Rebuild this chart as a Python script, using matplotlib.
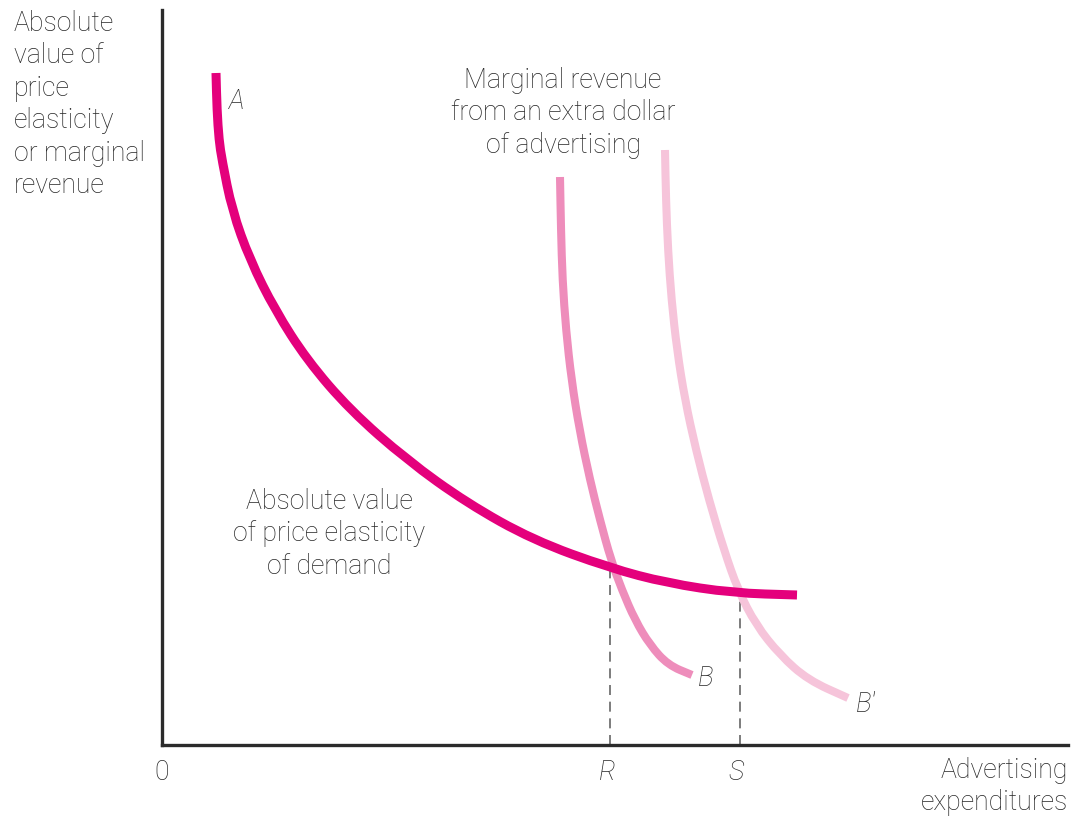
import matplotlib
matplotlib.use("Agg")
import matplotlib.pyplot as plt
from matplotlib.path import Path
from matplotlib.patches import PathPatch

# Figure geometry (pixels) of the plotting area
W, H = 1074, 816
x0, y0, x1, y1 = 162, 745, 1068, 10

# Curve points in chart units (origin at the corner of the axes)
elasticity_x = [54, 55, 57, 60, 70, 88, 113, 145, 188, 245, 305, 371, 448, 505, 571, 635]
elasticity_y = [672, 635, 605, 585, 535, 485, 435, 385, 335, 285, 242, 205, 177, 162, 152, 150]

mr_x = [398, 399, 400.5, 404, 409.5, 417.5, 428, 438, 449, 460, 473, 488, 506, 530]
mr_y = [568, 515, 465, 415, 365, 315, 265, 225, 185, 155, 125, 100, 80, 70]

mr2_x = [503, 504, 506, 509.5, 515, 523, 534, 547, 562, 576, 594, 618, 646, 686]
mr2_y = [595, 545, 495, 445, 395, 345, 295, 245, 195, 155, 120, 90, 65, 47]

r_pos, s_pos = 448, 578
r_top, s_top = 177, 153


def smooth_path(xs, ys):
    """Quadratic B-spline style path through the midpoints of the given points."""
    pts = list(zip(xs, ys))
    verts = [pts[0]]
    codes = [Path.MOVETO]
    mid = lambda a, b: ((a[0] + b[0]) / 2, (a[1] + b[1]) / 2)
    verts.append(mid(pts[0], pts[1]))
    codes.append(Path.LINETO)
    for i in range(1, len(pts) - 1):
        verts += [pts[i], mid(pts[i], pts[i + 1])]
        codes += [Path.CURVE3, Path.CURVE3]
    verts.append(pts[-1])
    codes.append(Path.LINETO)
    return Path(verts, codes)


fig = plt.figure(figsize=(10.74, 8.16), dpi=100)
ax = fig.add_axes([x0 / W, (H - y0) / H, (x1 - x0) / W, (y0 - y1) / H])
ax.set_xlim(0, x1 - x0)
ax.set_ylim(0, y0 - y1)
for side in ("top", "right"):
    ax.spines[side].set_visible(False)
for side in ("left", "bottom"):
    ax.spines[side].set_linewidth(2.4)
    ax.spines[side].set_color("#2b2b2b")
ax.set_xticks([])
ax.set_yticks([])

curves = [
    (mr2_x, mr2_y, "#f6c4da", 5.8),
    (mr_x, mr_y, "#ee8dbb", 5.8),
    (elasticity_x, elasticity_y, "#e4007c", 6.5),
]
for xs, ys, col, w in curves:
    ax.add_patch(PathPatch(smooth_path(xs, ys), fill=False, edgecolor=col, lw=w,
                           capstyle="butt", joinstyle="round", clip_on=False))

for xp, top in ((r_pos, r_top), (s_pos, s_top)):
    ax.plot([xp, xp], [0, top], color="#666666", lw=1.2, ls=(0, (6, 4)), zorder=0.5)

font = ["Roboto", "Liberation Sans"]
tc = "#262626"
fs = 19.2
ls = 1.26


def T(px, py, s, **kw):
    kw.setdefault("fontsize", fs)
    kw.setdefault("color", tc)
    kw.setdefault("family", font)
    kw.setdefault("fontweight", "light")
    ax.text(px - x0, y0 - py, s, clip_on=False, **kw)


T(14, 10, "Absolute\nvalue of\nprice\nelasticity\nor marginal\nrevenue", ha="left", va="top", linespacing=ls)
T(563, 67, "Marginal revenue\nfrom an extra dollar\nof advertising", ha="center", va="top", linespacing=ls)
T(329, 488, "Absolute value\nof price elasticity\nof demand", ha="center", va="top", linespacing=ls)
T(1068, 757, "Advertising\nexpenditures", ha="right", va="top", linespacing=ls)
T(229, 101, "A", ha="left", va="center", style="italic")
T(698, 678, "B", ha="left", va="center", style="italic")
T(856, 704, "B\u2032", ha="left", va="center", style="italic")
T(162, 773, "0", ha="center", va="center")
T(r_pos + x0 - 3, 773, "R", ha="center", va="center", style="italic")
T(s_pos + x0 - 4, 773, "S", ha="center", va="center", style="italic")

fig.savefig("out.png", dpi=100, facecolor="white")
